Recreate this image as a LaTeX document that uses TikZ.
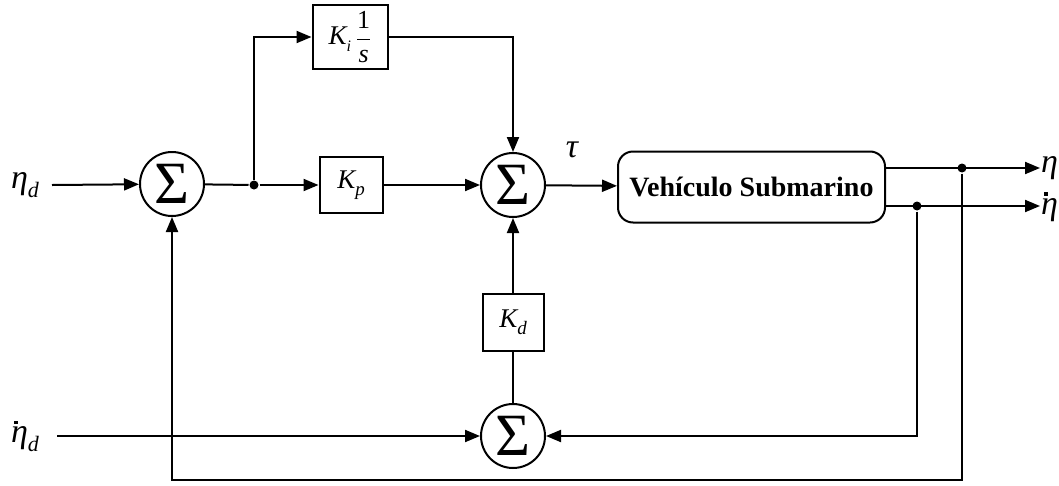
\documentclass[tikz,border=0pt]{standalone}
\usepackage{fontspec}
\setmainfont{Liberation Serif}
\usetikzlibrary{arrows.meta}
\newcommand\myetadot{\makebox[0pt][l]{\hspace{0.1em}\raisebox{0.55em}{\rule{3.5pt}{3.5pt}}}η}
\begin{document}
\begin{tikzpicture}[x=1pt,y=-1pt, line width=2pt,
  sumnode/.style={circle,draw,minimum size=64pt,inner sep=0pt,font=\fontsize{60}{60}\selectfont},
  gain/.style={draw,rectangle,inner sep=0pt,font=\fontsize{27}{30}\selectfont\itshape},
  arr/.style={-{Triangle[length=15pt,width=12pt]}},
  dotj/.style={circle,fill,inner sep=0pt,minimum size=9pt},
  lbl/.style={font=\fontsize{34}{36}\selectfont\itshape, inner sep=0pt}]
\useasboundingbox (0,0) rectangle (1059,485);
% blocks
\node[sumnode] (s1) at (172,184) {Σ};
\node[gain, minimum width=75pt, minimum height=64pt] (ki) at (350,37)
  {K\raisebox{-0.25em}{\fontsize{16}{16}\selectfont i}\hspace{5pt}\raisebox{-1pt}{\fontsize{26}{26}\selectfont$\displaystyle\frac{\mbox{\upshape 1}}{\mbox{\itshape s}}$}};
\node[gain, minimum width=63pt, minimum height=56pt] (kp) at (351,185) {K\raisebox{-0.25em}{\fontsize{19}{19}\selectfont p}};
\node[sumnode] (s2) at (513,185) {Σ};
\node[draw, rounded corners=15pt, minimum width=267pt, minimum height=71pt,
  font=\fontsize{28}{30}\selectfont\bfseries] (veh) at (751.5,187) {Vehículo Submarino};
\node[gain, minimum width=61pt, minimum height=57pt] (kd) at (513,322) {K\raisebox{-0.25em}{\fontsize{19}{19}\selectfont d}};
\node[sumnode] (s3) at (513,436) {Σ};
% labels
\node[lbl, anchor=west] (etad) at (10,185) {η\raisebox{-0.25em}{\fontsize{22}{22}\selectfont d}};
\node[lbl, anchor=west] (etaddot) at (10,436) {\myetadot\raisebox{-0.25em}{\fontsize{22}{22}\selectfont d}};
\node[lbl, anchor=west] (eta) at (1040,168) {η};
\node[lbl, anchor=west] (etadot) at (1040,207) {\myetadot};
\node[lbl] (tau) at (572,150) {τ};
% junctions
\node[dotj] (j1) at (254,185) {};
\node[dotj] (j2) at (962,168) {};
\node[dotj] (j3) at (917,206) {};
\coordinate (in1) at (52,185);
\coordinate (in2) at (57,436);
\coordinate (bot) at (962,480);
% connectors
\draw[arr] (in1) -- (s1);
\draw (s1) -- (j1);
\draw[arr] (j1) -- (kp);
\draw[arr] (j1) |- (ki);
\draw[arr] (ki) -| (s2);
\draw[arr] (kp) -- (s2);
\draw[arr] (s2) -- (veh);
\draw[arr] (veh.east |- j2) -- (eta.west |- j2);
\draw[arr] (veh.east |- j3) -- (etadot.west |- j3);
\draw[arr] (j3) |- (s3);
\draw[arr] (j2) -- (bot) -| (s1);
\draw[arr] (in2) -- (s3);
\draw (s3) -- (kd);
\draw[arr] (kd) -- (s2);
\end{tikzpicture}
\end{document}
